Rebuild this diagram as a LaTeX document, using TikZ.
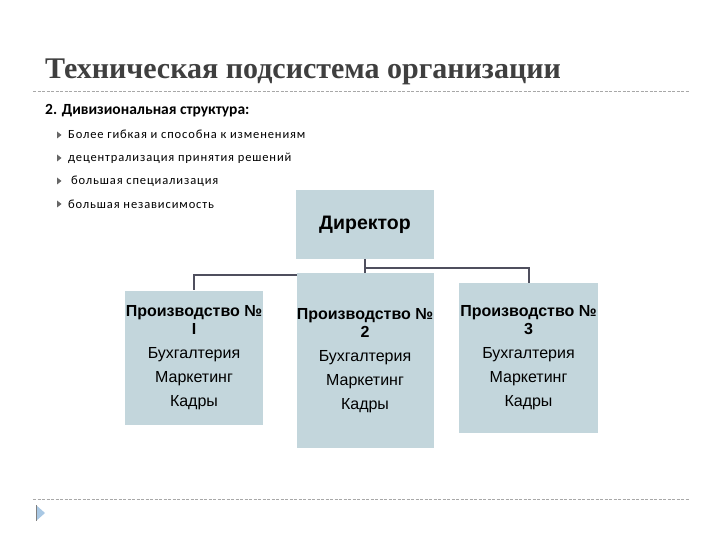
\documentclass[tikz,border=0pt]{standalone}
\usepackage{fontspec}
\setmainfont{Carlito}
\newfontfamily\titlefont{Liberation Serif}
\newfontfamily\itemfont[LetterSpace=7]{Carlito}
\newfontfamily\arialfont{Liberation Sans}
\usetikzlibrary{backgrounds}
\definecolor{boxblue}{HTML}{C3D6DC}
\definecolor{titlegray}{HTML}{3F3F3F}
\definecolor{rulegray}{HTML}{A8A8A8}
\definecolor{linkgray}{HTML}{4F4F5E}
\definecolor{iconblue}{HTML}{A9C8E4}
\tikzset{
  unitbox/.style={fill=boxblue, inner sep=0pt, align=center,
    font=\arialfont\fontsize{16}{18}\selectfont},
  link/.style={draw=linkgray, line width=2pt},
  rule/.style={draw=rulegray, line width=0.8pt, dash pattern=on 3pt off 1.5pt},
  item/.style={anchor=base west, inner sep=0pt, font=\itemfont\fontsize{12.5}{15}\selectfont}
}
\begin{document}
\begin{tikzpicture}[x=1pt, y=-1pt]
  \useasboundingbox (0,0) rectangle (720,540);
  % heading
  \node[anchor=base west, inner sep=0pt, text=titlegray,
    font=\titlefont\bfseries\fontsize{30}{34}\selectfont] (title) at (45,79)
    {Техническая подсистема организации};
  \draw[rule] (33,91) -- (690,91);
  \node[anchor=base west, inner sep=0pt, font=\bfseries\fontsize{15.5}{17}\selectfont]
    (sub) at (45,115) {2. Дивизиональная структура:};
  % bullets
  \foreach \y in {135,158,181,204}
    \fill[gray!80!black] (57,\y-3.5) -- (61.5,\y) -- (57,\y+3.5) -- cycle;
  \node[item] (i1) at (68,139) {Более гибкая и способна к изменениям};
  \node[item] (i2) at (68,162) {децентрализация принятия решений};
  \node[item] (i3) at (71,185) {большая специализация};
  \node[item] (i4) at (68,208) {большая независимость};
  % chart
  \node[unitbox, minimum width=138, minimum height=69,
    font=\arialfont\bfseries\fontsize{19.5}{22}\selectfont] (dir) at (365,224.5) {Директор};
  \node[unitbox, minimum width=138, minimum height=134] (p1) at (194,357.5)
    {\textbf{Производство №}\\\textbf{I}\\[6pt]Бухгалтерия\\[6pt]Маркетинг\\[6pt]Кадры};
  \node[unitbox, minimum width=137, minimum height=175] (p2) at (365,360.5)
    {\textbf{Производство №}\\\textbf{2}\\[6pt]Бухгалтерия\\[6pt]Маркетинг\\[6pt]Кадры};
  \node[unitbox, minimum width=139, minimum height=150] (p3) at (528.5,358)
    {\textbf{Производство №}\\\textbf{3}\\[6pt]Бухгалтерия\\[6pt]Маркетинг\\[6pt]Кадры};
  \begin{scope}[on background layer]
    \draw[link] (dir.south) -- ++(0,16) -| (p1.north);
    \draw[link] (dir.south) -- (p2.north);
    \draw[link] (dir.south) -- ++(0,9) -| (p3.north);
  \end{scope}
  % footer
  \draw[rule] (33,499) -- (690,499);
  \fill[iconblue] (36,505) -- (45,513) -- (36,521) -- cycle;
  \draw[gray, line width=1pt] (36,505) -- (36,521);
\end{tikzpicture}
\end{document}
